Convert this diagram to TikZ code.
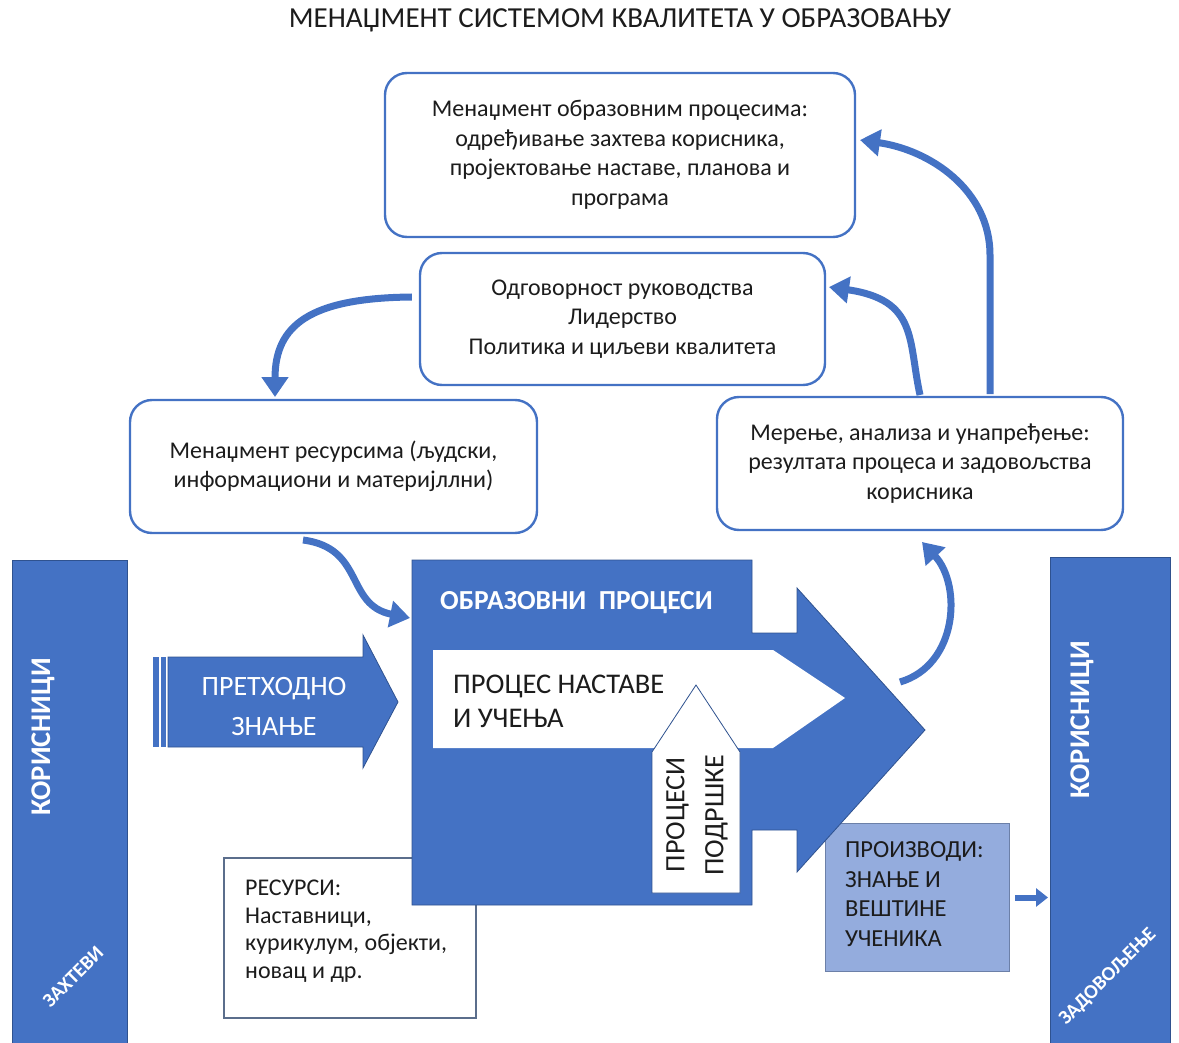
\documentclass[tikz,border=0pt]{standalone}
\usepackage{fontspec}
\setmainfont{Carlito}
\usetikzlibrary{arrows.meta}
\definecolor{accent}{HTML}{4472C4}
\definecolor{accentdark}{HTML}{2F528F}
\definecolor{prodfill}{HTML}{94ACDD}
\definecolor{prodline}{HTML}{6C80A8}
\definecolor{resline}{HTML}{5B6E8C}
\definecolor{ink}{HTML}{1C1C1C}

\begin{document}
\begin{tikzpicture}[x=1pt,y=-1pt,
  mgmt/.style={draw=accent, line width=2.4pt, rounded corners=22pt, fill=white,
    align=center, inner sep=0pt, text=ink, font=\fontsize{24}{29.5}\selectfont},
  flow/.style={draw=accent, line width=7pt,
    -{Triangle[length=20pt,width=26pt]}},
  bar/.style={fill=accent, draw=accentdark, line width=1pt, inner sep=0pt},
  blueform/.style={fill=accent, draw=accentdark, line width=0.8pt},
  bartext/.style={text=white, font=\fontsize{28.5}{30}\selectfont\bfseries, rotate=90},
  diagtext/.style={text=white, font=\fontsize{20}{22}\selectfont\bfseries, rotate=45},
  plain/.style={inner sep=0pt, text=ink}
]
\useasboundingbox (0,0) rectangle (1179,1043);

% title
\node[plain, font=\fontsize{29}{32}\selectfont] (title) at (620,20)
  {МЕНАЏМЕНТ СИСТЕМОМ КВАЛИТЕТА У ОБРАЗОВАЊУ};

% management boxes
\node[mgmt, minimum width=470pt, minimum height=164pt] (plan) at (620,155)
  {Менаџмент образовним процесима:\\ одређивање захтева корисника,\\
   пројектовање наставе, планова и\\ програма};
\node[mgmt, minimum width=405pt, minimum height=132pt] (lead) at (622.5,319)
  {Одговорност руководства\\ Лидерство\\ Политика и циљеви квалитета};
\node[mgmt, minimum width=407pt, minimum height=133pt] (resm) at (333.5,466.5)
  {Менаџмент ресурсима (људски,\\ информациони и материјллни)};
\node[mgmt, minimum width=406pt, minimum height=133pt] (meas) at (920,463.5)
  {Мерење, анализа и унапређење:\\ резултата процеса и задовољства\\ корисника};

% users on both sides
\node[bar, anchor=north west, minimum width=115pt, minimum height=495pt] (usersL) at (12,560) {};
\node[bartext] (usersLt) at (43,737) {КОРИСНИЦИ};
\node[diagtext] (req) at (73,977) {ЗАХТЕВИ};

\node[bar, anchor=north west, minimum width=120pt, minimum height=495pt] (usersR) at (1050,557) {};
\node[bartext] (usersRt) at (1082,720) {КОРИСНИЦИ};
\node[diagtext] (sat) at (1108,977) {ЗАДОВОЉЕЊЕ};

% prior knowledge arrow with striped tail
\fill[accent] (153,657) rectangle (159,747);
\fill[accent] (161,657) rectangle (166,747);
\draw[blueform] (168,657) -- (363,657) -- (363,635) -- (398,702) -- (363,768)
  -- (363,747) -- (168,747) -- cycle;
\node[text=white, align=center, inner sep=0pt, font=\fontsize{28}{40}\selectfont]
  (prior) at (274,707) {ПРЕТХОДНО\\ЗНАЊЕ};

% resources box (partly under the process arrow)
\node[draw=resline, fill=white, line width=2pt, anchor=north west,
  minimum width=252pt, minimum height=160pt] (resbox) at (223,857) {};
\node[plain, anchor=west, align=left, font=\fontsize{24}{27.5}\selectfont]
  (restext) at (245,931) {РЕСУРСИ:\\ Наставници,\\ курикулум, објекти,\\ новац и др.};

% products box
\node[draw=prodline, fill=prodfill, line width=1pt, anchor=north west,
  minimum width=184pt, minimum height=148pt] (prod) at (825,823) {};
\node[plain, anchor=west, align=left, font=\fontsize{24.5}{29.5}\selectfont]
  (prodtext) at (845,894) {ПРОИЗВОДИ:\\ ЗНАЊЕ И\\ ВЕШТИНЕ\\ УЧЕНИКА};

% educational processes: the large arrow
\draw[blueform] (412,560) -- (752,560) -- (752,633) -- (797,633) -- (797,588)
  -- (925,730) -- (797,872) -- (797,830) -- (752,830) -- (752,905)
  -- (412,905) -- cycle;
\node[text=white, anchor=west, inner sep=0pt, font=\fontsize{27.5}{30}\selectfont\bfseries]
  (edu) at (440,603) {ОБРАЗОВНИ\hspace{0.45em}ПРОЦЕСИ};

% teaching and learning (white inner arrow)
\fill[white] (433,650) -- (773,650) -- (845,698) -- (773,748) -- (433,748) -- cycle;
\node[plain, anchor=west, align=left, font=\fontsize{28.5}{34}\selectfont]
  (teach) at (453,701) {ПРОЦЕС НАСТАВЕ\\И УЧЕЊА};

% support processes (upward arrow)
\draw[fill=white, draw=accentdark, line width=0.8pt] (652,893) -- (652,752)
  -- (696,685) -- (740,752) -- (740,893) -- cycle;
\node[plain, rotate=90, align=center, font=\fontsize{28}{39}\selectfont]
  (support) at (697,815) {ПРОЦЕСИ\\ПОДРШКЕ};

% curved feedback connectors
\coordinate (f1s) at ([xshift=-7pt]lead.west |- 0,297);
\coordinate (f1e) at (275,397);
\draw[flow] (f1s) .. controls (310,298) and (275,325) .. (f1e);

\coordinate (f2s) at (303,540);
\coordinate (f2e) at (410,618);
\draw[flow] (f2s) .. controls (365,548) and (345,605) .. (f2e);

\coordinate (f3s) at (900,682);
\coordinate (f3e) at (922,542);
\draw[flow] (f3s) .. controls (958,665) and (962,585) .. (f3e);

\coordinate (f4s) at (920,395);
\coordinate (f4e) at (829,287);
\draw[flow] (f4s) .. controls (908,340) and (918,300) .. (f4e);

\coordinate (f5s) at (990,394);
\coordinate (f5e) at (860,140);
\draw[flow] (f5s) -- (990,255) .. controls (990,190) and (930,150) .. (f5e);

% products to users
\draw[draw=accent, line width=6pt, -{Triangle[length=12pt,width=18pt]}]
  ([xshift=5pt]prod.east) -- ([xshift=-2pt]usersR.west |- prod.east);
\end{tikzpicture}
\end{document}
